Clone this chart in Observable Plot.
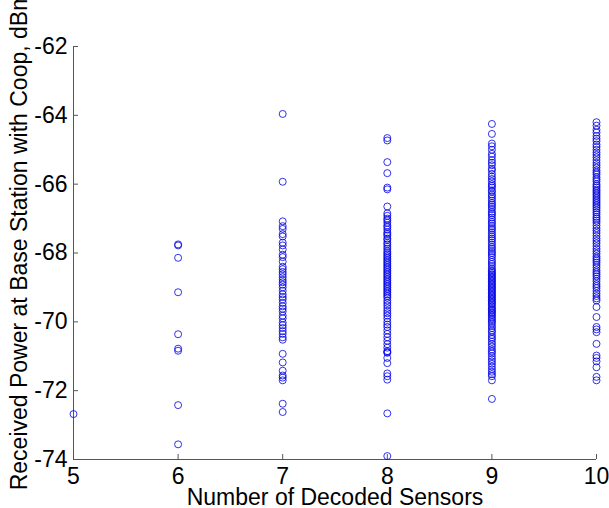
<!DOCTYPE html>
<html>
<head>
<meta charset="utf-8">
<script src="https://cdn.jsdelivr.net/npm/d3@7"></script>
<script src="https://cdn.jsdelivr.net/npm/@observablehq/plot@0.6"></script>
<style>
  html, body { margin: 0; padding: 0; background: #fff; }
</style>
</head>
<body>
<div id="chart"></div>
<script>
const xTicks = [5, 6, 7, 8, 9, 10];
const yTicks = [-74, -72, -70, -68, -66, -64, -62];
const xLabel = "Number of Decoded Sensors";
const yLabel = "Received Power at Base Station with Coop, dBm";

const y5 = [-72.68];
const y6 = [-67.75, -67.78, -68.14, -69.14, -70.36, -70.78, -70.84, -72.42, -73.56];
const y7 = [-63.96, -65.93, -67.08, -67.22, -67.3, -67.45, -67.52, -67.7, -67.78, -67.9, -68.05, -68.12,
  -68.25, -68.4, -68.47, -68.55, -68.62, -68.7, -68.78, -68.85, -68.92, -69.0, -69.1, -69.2, -69.28,
  -69.35, -69.45, -69.55, -69.62, -69.7, -69.82, -69.9, -70.02, -70.1, -70.18, -70.27, -70.35, -70.45,
  -70.52, -70.93, -71.18, -71.42, -71.56, -71.62, -71.7, -72.38, -72.62];
const y8 = [-64.66, -64.73, -65.36, -65.68, -66.1, -66.15, -66.65, -66.85, -66.92, -67.0, -67.05, -67.12,
  -67.2, -67.25, -67.32, -67.4, -67.45, -67.5, -67.58, -67.62, -67.7, -67.75, -67.82, -67.88, -67.95,
  -68.0, -68.05, -68.1, -68.15, -68.2, -68.25, -68.3, -68.35, -68.4, -68.45, -68.5, -68.55, -68.6,
  -68.65, -68.7, -68.75, -68.8, -68.85, -68.9, -68.95, -69.0, -69.05, -69.1, -69.15, -69.2, -69.25,
  -69.3, -69.38, -69.45, -69.52, -69.6, -69.68, -69.75, -69.82, -69.9, -70.0, -70.08, -70.15, -70.25,
  -70.35, -70.45, -70.55, -70.65, -70.75, -70.85, -70.88, -70.9, -71.05, -71.2, -71.5, -71.58, -71.68,
  -72.66, -73.9];
const y9 = [-64.25, -64.54, -64.82, -64.9, -65.0, -65.12, -65.2, -65.3, -65.38, -65.45, -65.55, -65.6,
  -65.7, -65.78, -65.85, -65.92, -66.0, -66.05, -66.1, -66.18, -66.22, -66.3, -66.35, -66.42, -66.48,
  -66.55, -66.6, -66.66, -66.72, -66.8, -66.85, -66.9, -66.97, -67.03, -67.1, -67.15, -67.22, -67.28,
  -67.33, -67.4, -67.46, -67.52, -67.58, -67.63, -67.7, -67.76, -67.83, -67.88, -67.95, -68.0, -68.06,
  -68.12, -68.2, -68.26, -68.32, -68.38, -68.45, -68.5, -68.54, -68.58, -68.62, -68.66, -68.7, -68.74,
  -68.78, -68.82, -68.86, -68.9, -68.94, -68.98, -69.02, -69.06, -69.1, -69.14, -69.18, -69.22, -69.26,
  -69.3, -69.34, -69.38, -69.42, -69.46, -69.5, -69.55, -69.6, -69.64, -69.68, -69.72, -69.76, -69.8,
  -69.85, -69.9, -69.95, -70.0, -70.05, -70.12, -70.18, -70.25, -70.3, -70.38, -70.45, -70.5, -70.58,
  -70.65, -70.72, -70.8, -70.86, -70.92, -71.0, -71.08, -71.15, -71.22, -71.3, -71.38, -71.45, -71.52,
  -71.58, -71.7, -72.24];
const y10 = [-64.2, -64.3, -64.42, -64.5, -64.6, -64.68, -64.75, -64.85, -64.92, -65.0, -65.08, -65.15,
  -65.22, -65.3, -65.38, -65.45, -65.52, -65.6, -65.66, -65.72, -65.8, -65.86, -65.92, -66.0, -66.05,
  -66.1, -66.16, -66.2, -66.25, -66.3, -66.35, -66.4, -66.45, -66.5, -66.55, -66.6, -66.65, -66.7,
  -66.76, -66.82, -66.88, -66.95, -67.0, -67.06, -67.12, -67.2, -67.28, -67.35, -67.42, -67.5, -67.58,
  -67.65, -67.72, -67.8, -67.88, -67.95, -68.02, -68.1, -68.16, -68.22, -68.28, -68.35, -68.42, -68.5,
  -68.56, -68.62, -68.68, -68.75, -68.82, -68.9, -68.96, -69.02, -69.1, -69.18, -69.25, -69.32, -69.38,
  -69.57, -69.86, -70.15, -70.22, -70.3, -70.64, -70.98, -71.05, -71.15, -71.32, -71.6, -71.7];

const groups = [[5, y5], [6, y6], [7, y7], [8, y8], [9, y9], [10, y10]];
const data = groups.flatMap(([n, ys]) => ys.map(v => ({n, v})));

const chart = Plot.plot({
  width: 609,
  height: 508,
  marginLeft: 73,
  marginRight: 13,
  marginTop: 46,
  marginBottom: 49,
  style: {fontFamily: "'Liberation Sans', Arial, sans-serif", fontSize: "23px", color: "black", background: "white"},
  x: {domain: [5, 10]},
  y: {domain: [-74, -62]},
  marks: [
    Plot.axisX({ticks: xTicks, tickSize: -5, tickPadding: 13, label: null, fontSize: 23, stroke: "#555", fill: "black", tickFormat: d => String(d)}),
    Plot.axisY({ticks: yTicks, tickSize: -5, tickPadding: 11, label: null, fontSize: 23, stroke: "#555", fill: "black", tickFormat: d => String(d).replace("\u2212", "-")}),
    Plot.ruleX([5], {stroke: "#555"}),
    Plot.ruleY([-74], {stroke: "#555"}),
    Plot.dot(data, {x: "n", y: "v", r: 3.5, stroke: "#0000e6", strokeWidth: 1, strokeOpacity: 0.8, fill: "none"}),
    Plot.text([xLabel], {frameAnchor: "bottom", dy: 29, fontSize: 23, lineAnchor: "top", textAnchor: "middle", fill: "black"}),
    Plot.text([yLabel], {frameAnchor: "left", rotate: -90, dx: -54, dy: -12, fontSize: 23, lineAnchor: "middle", textAnchor: "middle", fill: "black"})
  ]
});
document.getElementById("chart").appendChild(chart);
</script>
</body>
</html>
